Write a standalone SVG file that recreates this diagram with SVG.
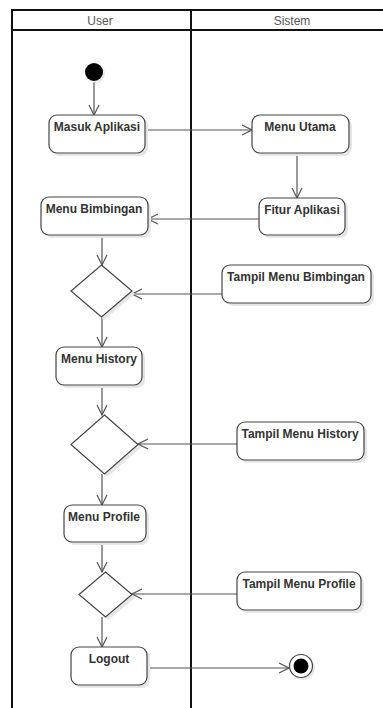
<svg xmlns="http://www.w3.org/2000/svg" width="383" height="708" viewBox="0 0 383 708">
<defs>
<style>
.lane{stroke:#111;stroke-width:2;fill:none}
.hdr{font-family:"Liberation Sans",Arial,sans-serif;font-size:12px;fill:#555;text-anchor:middle}
.act{fill:#fff;stroke:#444;stroke-width:1.2}
.sh{fill:#e6e6e6;stroke:none}
.lbl{font-family:"Liberation Sans",Arial,sans-serif;font-size:12px;font-weight:bold;fill:#333;text-anchor:middle}
.edge{stroke:#555;stroke-width:1.2;fill:none;marker-end:url(#arr)}
</style>
<marker id="arr" viewBox="0 0 12 12" refX="11" refY="6" markerWidth="12" markerHeight="12" markerUnits="userSpaceOnUse" orient="auto">
<path d="M1,1 L11,6 L1,11" fill="none" stroke="#555" stroke-width="1.2"/>
</marker>
</defs>
<rect width="383" height="708" fill="#fff"/>
<g id="frame">
<line class="lane" x1="11" y1="10" x2="383" y2="10"/>
<line class="lane" x1="11" y1="30" x2="383" y2="30"/>
<line class="lane" x1="12" y1="10" x2="12" y2="708"/>
<line class="lane" x1="191" y1="10" x2="191" y2="708"/>
<text class="hdr" x="100" y="25">User</text>
<text class="hdr" x="292" y="25">Sistem</text>
</g>
<g id="connectors">
<line class="edge" x1="94" y1="81" x2="94" y2="115"/>
<line class="edge" x1="145" y1="130" x2="252" y2="130"/>
<line class="edge" x1="297" y1="153" x2="297" y2="198"/>
<line class="edge" x1="259" y1="219" x2="148" y2="219"/>
<line class="edge" x1="102" y1="235" x2="102" y2="265"/>
<line class="edge" x1="222" y1="294" x2="132" y2="294"/>
<line class="edge" x1="102" y1="317" x2="102" y2="347"/>
<line class="edge" x1="102" y1="385" x2="102" y2="415"/>
<line class="edge" x1="237" y1="444" x2="138" y2="444"/>
<line class="edge" x1="102" y1="474" x2="102" y2="505"/>
<line class="edge" x1="102" y1="542" x2="102" y2="572"/>
<line class="edge" x1="237" y1="594" x2="132" y2="594"/>
<line class="edge" x1="102" y1="617" x2="102" y2="647"/>
<line class="edge" x1="147" y1="668" x2="289" y2="668"/>
</g>
<g id="start">
<circle cx="96" cy="74" r="9" fill="#e8e8e8"/>
<circle cx="94" cy="72" r="9" fill="#000"/>
</g>
<g id="masuk-aplikasi">
<rect class="sh" x="52" y="118" width="96" height="38" rx="8"/>
<rect class="act" x="49" y="115" width="96" height="38" rx="8"/>
<text class="lbl" x="97" y="131">Masuk Aplikasi</text>
</g>
<g id="menu-utama">
<rect class="sh" x="255" y="118" width="97" height="38" rx="8"/>
<rect class="act" x="252" y="115" width="97" height="38" rx="8"/>
<text class="lbl" x="300" y="131">Menu Utama</text>
</g>
<g id="fitur-aplikasi">
<rect class="sh" x="262" y="201" width="86" height="37" rx="8"/>
<rect class="act" x="259" y="198" width="86" height="37" rx="8"/>
<text class="lbl" x="302" y="214">Fitur Aplikasi</text>
</g>
<g id="menu-bimbingan">
<rect class="sh" x="44" y="200" width="107" height="38" rx="8"/>
<rect class="act" x="41" y="197" width="107" height="38" rx="8"/>
<text class="lbl" x="94" y="213">Menu Bimbingan</text>
</g>
<g id="decision-1">
<polygon class="sh" points="104,268 135,294 104,320 74,294"/>
<polygon class="act" points="101.5,265 132,291 101.5,317 71,291"/>
</g>
<g id="tampil-menu-bimbingan">
<rect class="sh" x="225" y="268" width="149" height="38" rx="8"/>
<rect class="act" x="222" y="265" width="149" height="38" rx="8"/>
<text class="lbl" x="296" y="281">Tampil Menu Bimbingan</text>
</g>
<g id="menu-history">
<rect class="sh" x="59" y="350" width="86" height="38" rx="8"/>
<rect class="act" x="56" y="347" width="86" height="38" rx="8"/>
<text class="lbl" x="99" y="363">Menu History</text>
</g>
<g id="decision-2">
<polygon class="sh" points="107.5,418 141,447.5 107.5,477 74,447.5"/>
<polygon class="act" points="104.5,415 138,444.5 104.5,474 71,444.5"/>
</g>
<g id="tampil-menu-history">
<rect class="sh" x="240" y="425" width="127" height="38" rx="8"/>
<rect class="act" x="237" y="422" width="127" height="38" rx="8"/>
<text class="lbl" x="300" y="438">Tampil Menu History</text>
</g>
<g id="menu-profile">
<rect class="sh" x="67" y="508" width="82" height="37" rx="8"/>
<rect class="act" x="64" y="505" width="82" height="37" rx="8"/>
<text class="lbl" x="104" y="521">Menu Profile</text>
</g>
<g id="decision-3">
<polygon class="sh" points="108.5,575 135,597.5 108.5,620 82,597.5"/>
<polygon class="act" points="105.5,572 132,594.5 105.5,617 79,594.5"/>
</g>
<g id="tampil-menu-profile">
<rect class="sh" x="240" y="575" width="124" height="38" rx="8"/>
<rect class="act" x="237" y="572" width="124" height="38" rx="8"/>
<text class="lbl" x="299" y="588">Tampil Menu Profile</text>
</g>
<g id="logout">
<rect class="sh" x="74" y="650" width="76" height="38" rx="8"/>
<rect class="act" x="71" y="647" width="76" height="38" rx="8"/>
<text class="lbl" x="109" y="663">Logout</text>
</g>
<g id="end">
<circle cx="303" cy="668" r="12" fill="#e8e8e8"/>
<circle cx="301" cy="666" r="11.5" fill="#fff" stroke="#444" stroke-width="1.2"/>
<circle cx="301" cy="666" r="7.5" fill="#000"/>
</g>
</svg>
